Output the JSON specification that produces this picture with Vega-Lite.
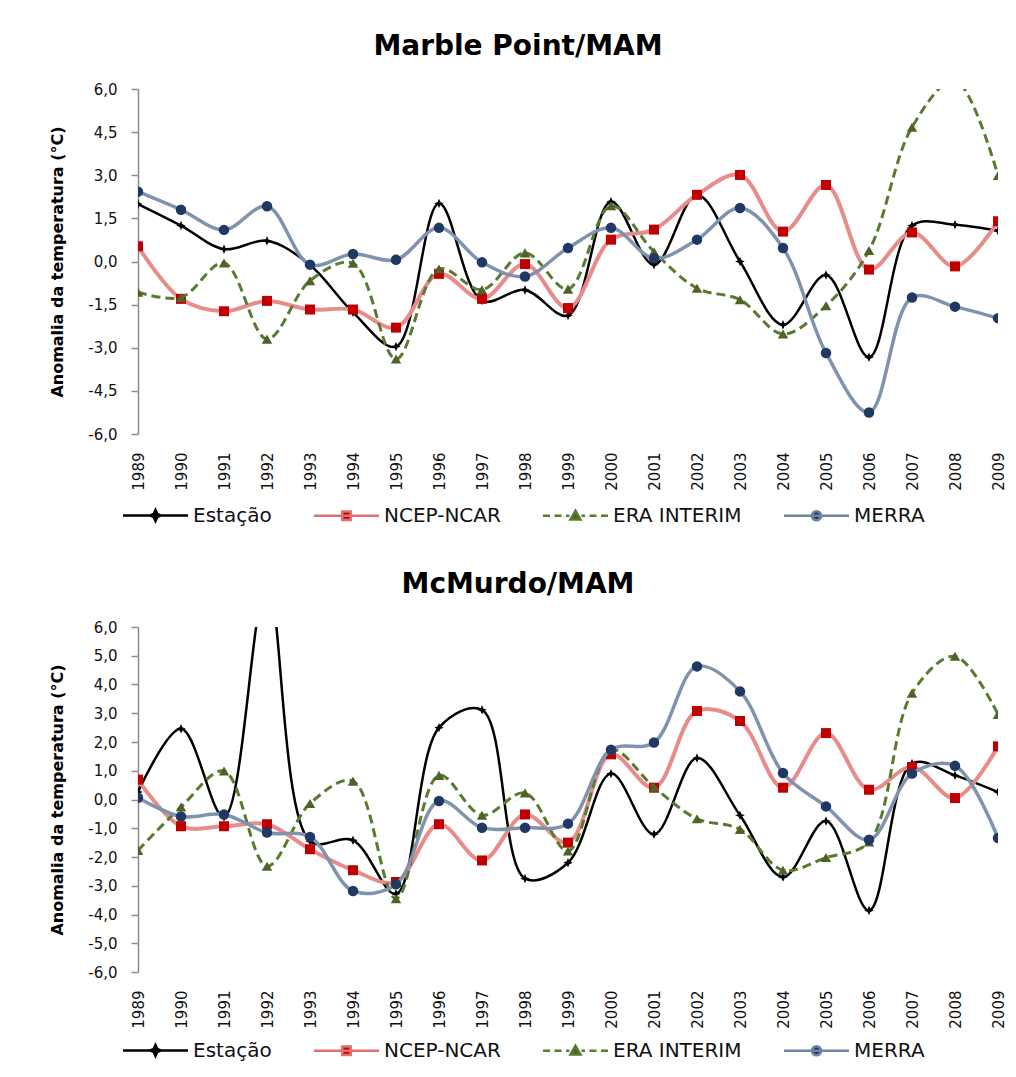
{
  "$schema": "https://vega.github.io/schema/vega-lite/v6.json",
  "background": "white",
  "padding": {"left": 49, "top": 33, "right": 10, "bottom": 5},
  "autosize": {"type": "pad"},
  "spacing": 45,
  "datasets": {
    "dados": [
      {"painel":"Marble Point","serie":"Estação","ano":1989,"valor":2.0},
      {"painel":"Marble Point","serie":"Estação","ano":1990,"valor":1.25},
      {"painel":"Marble Point","serie":"Estação","ano":1991,"valor":0.43},
      {"painel":"Marble Point","serie":"Estação","ano":1992,"valor":0.72},
      {"painel":"Marble Point","serie":"Estação","ano":1993,"valor":-0.12},
      {"painel":"Marble Point","serie":"Estação","ano":1994,"valor":-1.77},
      {"painel":"Marble Point","serie":"Estação","ano":1995,"valor":-2.96},
      {"painel":"Marble Point","serie":"Estação","ano":1996,"valor":2.02},
      {"painel":"Marble Point","serie":"Estação","ano":1997,"valor":-1.36},
      {"painel":"Marble Point","serie":"Estação","ano":1998,"valor":-0.99},
      {"painel":"Marble Point","serie":"Estação","ano":1999,"valor":-1.88},
      {"painel":"Marble Point","serie":"Estação","ano":2000,"valor":2.08},
      {"painel":"Marble Point","serie":"Estação","ano":2001,"valor":-0.11},
      {"painel":"Marble Point","serie":"Estação","ano":2002,"valor":2.31},
      {"painel":"Marble Point","serie":"Estação","ano":2003,"valor":0.0},
      {"painel":"Marble Point","serie":"Estação","ano":2004,"valor":-2.2},
      {"painel":"Marble Point","serie":"Estação","ano":2005,"valor":-0.47},
      {"painel":"Marble Point","serie":"Estação","ano":2006,"valor":-3.33},
      {"painel":"Marble Point","serie":"Estação","ano":2007,"valor":1.25},
      {"painel":"Marble Point","serie":"Estação","ano":2008,"valor":1.28},
      {"painel":"Marble Point","serie":"Estação","ano":2009,"valor":1.07},
      {"painel":"Marble Point","serie":"NCEP-NCAR","ano":1989,"valor":0.53},
      {"painel":"Marble Point","serie":"NCEP-NCAR","ano":1990,"valor":-1.3},
      {"painel":"Marble Point","serie":"NCEP-NCAR","ano":1991,"valor":-1.73},
      {"painel":"Marble Point","serie":"NCEP-NCAR","ano":1992,"valor":-1.37},
      {"painel":"Marble Point","serie":"NCEP-NCAR","ano":1993,"valor":-1.67},
      {"painel":"Marble Point","serie":"NCEP-NCAR","ano":1994,"valor":-1.67},
      {"painel":"Marble Point","serie":"NCEP-NCAR","ano":1995,"valor":-2.3},
      {"painel":"Marble Point","serie":"NCEP-NCAR","ano":1996,"valor":-0.43},
      {"painel":"Marble Point","serie":"NCEP-NCAR","ano":1997,"valor":-1.3},
      {"painel":"Marble Point","serie":"NCEP-NCAR","ano":1998,"valor":-0.09},
      {"painel":"Marble Point","serie":"NCEP-NCAR","ano":1999,"valor":-1.62},
      {"painel":"Marble Point","serie":"NCEP-NCAR","ano":2000,"valor":0.76},
      {"painel":"Marble Point","serie":"NCEP-NCAR","ano":2001,"valor":1.11},
      {"painel":"Marble Point","serie":"NCEP-NCAR","ano":2002,"valor":2.32},
      {"painel":"Marble Point","serie":"NCEP-NCAR","ano":2003,"valor":3.01},
      {"painel":"Marble Point","serie":"NCEP-NCAR","ano":2004,"valor":1.04},
      {"painel":"Marble Point","serie":"NCEP-NCAR","ano":2005,"valor":2.66},
      {"painel":"Marble Point","serie":"NCEP-NCAR","ano":2006,"valor":-0.28},
      {"painel":"Marble Point","serie":"NCEP-NCAR","ano":2007,"valor":1.01},
      {"painel":"Marble Point","serie":"NCEP-NCAR","ano":2008,"valor":-0.17},
      {"painel":"Marble Point","serie":"NCEP-NCAR","ano":2009,"valor":1.4},
      {"painel":"Marble Point","serie":"ERA INTERIM","ano":1989,"valor":-1.07},
      {"painel":"Marble Point","serie":"ERA INTERIM","ano":1990,"valor":-1.25},
      {"painel":"Marble Point","serie":"ERA INTERIM","ano":1991,"valor":-0.05},
      {"painel":"Marble Point","serie":"ERA INTERIM","ano":1992,"valor":-2.7},
      {"painel":"Marble Point","serie":"ERA INTERIM","ano":1993,"valor":-0.67},
      {"painel":"Marble Point","serie":"ERA INTERIM","ano":1994,"valor":-0.06},
      {"painel":"Marble Point","serie":"ERA INTERIM","ano":1995,"valor":-3.39},
      {"painel":"Marble Point","serie":"ERA INTERIM","ano":1996,"valor":-0.26},
      {"painel":"Marble Point","serie":"ERA INTERIM","ano":1997,"valor":-0.98},
      {"painel":"Marble Point","serie":"ERA INTERIM","ano":1998,"valor":0.3},
      {"painel":"Marble Point","serie":"ERA INTERIM","ano":1999,"valor":-0.96},
      {"painel":"Marble Point","serie":"ERA INTERIM","ano":2000,"valor":1.94},
      {"painel":"Marble Point","serie":"ERA INTERIM","ano":2001,"valor":0.34},
      {"painel":"Marble Point","serie":"ERA INTERIM","ano":2002,"valor":-0.93},
      {"painel":"Marble Point","serie":"ERA INTERIM","ano":2003,"valor":-1.33},
      {"painel":"Marble Point","serie":"ERA INTERIM","ano":2004,"valor":-2.52},
      {"painel":"Marble Point","serie":"ERA INTERIM","ano":2005,"valor":-1.54},
      {"painel":"Marble Point","serie":"ERA INTERIM","ano":2006,"valor":0.38},
      {"painel":"Marble Point","serie":"ERA INTERIM","ano":2007,"valor":4.67},
      {"painel":"Marble Point","serie":"ERA INTERIM","ano":2008,"valor":6.3},
      {"painel":"Marble Point","serie":"ERA INTERIM","ano":2009,"valor":2.99},
      {"painel":"Marble Point","serie":"MERRA","ano":1989,"valor":2.43},
      {"painel":"Marble Point","serie":"MERRA","ano":1990,"valor":1.8},
      {"painel":"Marble Point","serie":"MERRA","ano":1991,"valor":1.1},
      {"painel":"Marble Point","serie":"MERRA","ano":1992,"valor":1.92},
      {"painel":"Marble Point","serie":"MERRA","ano":1993,"valor":-0.11},
      {"painel":"Marble Point","serie":"MERRA","ano":1994,"valor":0.26},
      {"painel":"Marble Point","serie":"MERRA","ano":1995,"valor":0.06},
      {"painel":"Marble Point","serie":"MERRA","ano":1996,"valor":1.17},
      {"painel":"Marble Point","serie":"MERRA","ano":1997,"valor":-0.03},
      {"painel":"Marble Point","serie":"MERRA","ano":1998,"valor":-0.52},
      {"painel":"Marble Point","serie":"MERRA","ano":1999,"valor":0.47},
      {"painel":"Marble Point","serie":"MERRA","ano":2000,"valor":1.17},
      {"painel":"Marble Point","serie":"MERRA","ano":2001,"valor":0.11},
      {"painel":"Marble Point","serie":"MERRA","ano":2002,"valor":0.76},
      {"painel":"Marble Point","serie":"MERRA","ano":2003,"valor":1.86},
      {"painel":"Marble Point","serie":"MERRA","ano":2004,"valor":0.47},
      {"painel":"Marble Point","serie":"MERRA","ano":2005,"valor":-3.18},
      {"painel":"Marble Point","serie":"MERRA","ano":2006,"valor":-5.25},
      {"painel":"Marble Point","serie":"MERRA","ano":2007,"valor":-1.25},
      {"painel":"Marble Point","serie":"MERRA","ano":2008,"valor":-1.57},
      {"painel":"Marble Point","serie":"MERRA","ano":2009,"valor":-1.97},
      {"painel":"McMurdo","serie":"Estação","ano":1989,"valor":0.26},
      {"painel":"McMurdo","serie":"Estação","ano":1990,"valor":2.46},
      {"painel":"McMurdo","serie":"Estação","ano":1991,"valor":-0.61},
      {"painel":"McMurdo","serie":"Estação","ano":1992,"valor":7.5},
      {"painel":"McMurdo","serie":"Estação","ano":1993,"valor":-1.45},
      {"painel":"McMurdo","serie":"Estação","ano":1994,"valor":-1.42},
      {"painel":"McMurdo","serie":"Estação","ano":1995,"valor":-3.28},
      {"painel":"McMurdo","serie":"Estação","ano":1996,"valor":2.5},
      {"painel":"McMurdo","serie":"Estação","ano":1997,"valor":3.12},
      {"painel":"McMurdo","serie":"Estação","ano":1998,"valor":-2.75},
      {"painel":"McMurdo","serie":"Estação","ano":1999,"valor":-2.2},
      {"painel":"McMurdo","serie":"Estação","ano":2000,"valor":0.9},
      {"painel":"McMurdo","serie":"Estação","ano":2001,"valor":-1.21},
      {"painel":"McMurdo","serie":"Estação","ano":2002,"valor":1.44},
      {"painel":"McMurdo","serie":"Estação","ano":2003,"valor":-0.55},
      {"painel":"McMurdo","serie":"Estação","ano":2004,"valor":-2.7},
      {"painel":"McMurdo","serie":"Estação","ano":2005,"valor":-0.75},
      {"painel":"McMurdo","serie":"Estação","ano":2006,"valor":-3.86},
      {"painel":"McMurdo","serie":"Estação","ano":2007,"valor":1.25},
      {"painel":"McMurdo","serie":"Estação","ano":2008,"valor":0.84},
      {"painel":"McMurdo","serie":"Estação","ano":2009,"valor":0.26},
      {"painel":"McMurdo","serie":"NCEP-NCAR","ano":1989,"valor":0.69},
      {"painel":"McMurdo","serie":"NCEP-NCAR","ano":1990,"valor":-0.93},
      {"painel":"McMurdo","serie":"NCEP-NCAR","ano":1991,"valor":-0.93},
      {"painel":"McMurdo","serie":"NCEP-NCAR","ano":1992,"valor":-0.86},
      {"painel":"McMurdo","serie":"NCEP-NCAR","ano":1993,"valor":-1.73},
      {"painel":"McMurdo","serie":"NCEP-NCAR","ano":1994,"valor":-2.46},
      {"painel":"McMurdo","serie":"NCEP-NCAR","ano":1995,"valor":-2.87},
      {"painel":"McMurdo","serie":"NCEP-NCAR","ano":1996,"valor":-0.86},
      {"painel":"McMurdo","serie":"NCEP-NCAR","ano":1997,"valor":-2.12},
      {"painel":"McMurdo","serie":"NCEP-NCAR","ano":1998,"valor":-0.52},
      {"painel":"McMurdo","serie":"NCEP-NCAR","ano":1999,"valor":-1.5},
      {"painel":"McMurdo","serie":"NCEP-NCAR","ano":2000,"valor":1.57},
      {"painel":"McMurdo","serie":"NCEP-NCAR","ano":2001,"valor":0.41},
      {"painel":"McMurdo","serie":"NCEP-NCAR","ano":2002,"valor":3.08},
      {"painel":"McMurdo","serie":"NCEP-NCAR","ano":2003,"valor":2.73},
      {"painel":"McMurdo","serie":"NCEP-NCAR","ano":2004,"valor":0.41},
      {"painel":"McMurdo","serie":"NCEP-NCAR","ano":2005,"valor":2.31},
      {"painel":"McMurdo","serie":"NCEP-NCAR","ano":2006,"valor":0.34},
      {"painel":"McMurdo","serie":"NCEP-NCAR","ano":2007,"valor":1.13},
      {"painel":"McMurdo","serie":"NCEP-NCAR","ano":2008,"valor":0.05},
      {"painel":"McMurdo","serie":"NCEP-NCAR","ano":2009,"valor":1.85},
      {"painel":"McMurdo","serie":"ERA INTERIM","ano":1989,"valor":-1.77},
      {"painel":"McMurdo","serie":"ERA INTERIM","ano":1990,"valor":-0.26},
      {"painel":"McMurdo","serie":"ERA INTERIM","ano":1991,"valor":0.99},
      {"painel":"McMurdo","serie":"ERA INTERIM","ano":1992,"valor":-2.32},
      {"painel":"McMurdo","serie":"ERA INTERIM","ano":1993,"valor":-0.14},
      {"painel":"McMurdo","serie":"ERA INTERIM","ano":1994,"valor":0.64},
      {"painel":"McMurdo","serie":"ERA INTERIM","ano":1995,"valor":-3.45},
      {"painel":"McMurdo","serie":"ERA INTERIM","ano":1996,"valor":0.84},
      {"painel":"McMurdo","serie":"ERA INTERIM","ano":1997,"valor":-0.55},
      {"painel":"McMurdo","serie":"ERA INTERIM","ano":1998,"valor":0.23},
      {"painel":"McMurdo","serie":"ERA INTERIM","ano":1999,"valor":-1.79},
      {"painel":"McMurdo","serie":"ERA INTERIM","ano":2000,"valor":1.73},
      {"painel":"McMurdo","serie":"ERA INTERIM","ano":2001,"valor":0.43},
      {"painel":"McMurdo","serie":"ERA INTERIM","ano":2002,"valor":-0.67},
      {"painel":"McMurdo","serie":"ERA INTERIM","ano":2003,"valor":-1.04},
      {"painel":"McMurdo","serie":"ERA INTERIM","ano":2004,"valor":-2.46},
      {"painel":"McMurdo","serie":"ERA INTERIM","ano":2005,"valor":-2.02},
      {"painel":"McMurdo","serie":"ERA INTERIM","ano":2006,"valor":-1.48},
      {"painel":"McMurdo","serie":"ERA INTERIM","ano":2007,"valor":3.7},
      {"painel":"McMurdo","serie":"ERA INTERIM","ano":2008,"valor":4.98},
      {"painel":"McMurdo","serie":"ERA INTERIM","ano":2009,"valor":2.96},
      {"painel":"McMurdo","serie":"MERRA","ano":1989,"valor":0.06},
      {"painel":"McMurdo","serie":"MERRA","ano":1990,"valor":-0.59},
      {"painel":"McMurdo","serie":"MERRA","ano":1991,"valor":-0.52},
      {"painel":"McMurdo","serie":"MERRA","ano":1992,"valor":-1.15},
      {"painel":"McMurdo","serie":"MERRA","ano":1993,"valor":-1.3},
      {"painel":"McMurdo","serie":"MERRA","ano":1994,"valor":-3.18},
      {"painel":"McMurdo","serie":"MERRA","ano":1995,"valor":-2.95},
      {"painel":"McMurdo","serie":"MERRA","ano":1996,"valor":-0.05},
      {"painel":"McMurdo","serie":"MERRA","ano":1997,"valor":-0.98},
      {"painel":"McMurdo","serie":"MERRA","ano":1998,"valor":-0.98},
      {"painel":"McMurdo","serie":"MERRA","ano":1999,"valor":-0.84},
      {"painel":"McMurdo","serie":"MERRA","ano":2000,"valor":1.73},
      {"painel":"McMurdo","serie":"MERRA","ano":2001,"valor":1.98},
      {"painel":"McMurdo","serie":"MERRA","ano":2002,"valor":4.63},
      {"painel":"McMurdo","serie":"MERRA","ano":2003,"valor":3.76},
      {"painel":"McMurdo","serie":"MERRA","ano":2004,"valor":0.92},
      {"painel":"McMurdo","serie":"MERRA","ano":2005,"valor":-0.24},
      {"painel":"McMurdo","serie":"MERRA","ano":2006,"valor":-1.4},
      {"painel":"McMurdo","serie":"MERRA","ano":2007,"valor":0.9},
      {"painel":"McMurdo","serie":"MERRA","ano":2008,"valor":1.17},
      {"painel":"McMurdo","serie":"MERRA","ano":2009,"valor":-1.34}
    ]
  },
  "vconcat": [
    {
      "width": 860,
      "height": 345,
      "title": {"text": "Marble Point/MAM", "dx": -50},
      "data": {"name": "dados"},
      "transform": [{"filter": {"field": "painel", "equal": "Marble Point"}}],
      "encoding": {
        "x": {"field": "ano", "type": "quantitative", "scale": {"domain": [1989, 2009], "nice": false, "zero": false},
              "axis": {"values": [1989,1990,1991,1992,1993,1994,1995,1996,1997,1998,1999,2000,2001,2002,2003,2004,2005,2006,2007,2008,2009], "format": "d", "title": null, "labelOverlap": false}},
        "y": {"field": "valor", "type": "quantitative", "scale": {"domain": [-6, 6], "nice": false},
              "axis": {"values": [-6,-4.5,-3,-1.5,0,1.5,3,4.5,6], "title": "Anomalia da temperatura (°C)", "labelOverlap": false,
                       "labelExpr": "(datum.value < 0 ? '-' : '') + replace(format(abs(datum.value), '.1f'), '.', ',')"}}
      },
      "layer": [
        {
          "data": {"values": [{"zero": 0}]},
          "mark": {"type": "rule", "color": "#8c8c8c", "strokeWidth": 1.5},
          "encoding": {"y": {"datum": 0}, "x": {"datum": 1989}, "x2": {"datum": 2009}}
        },
        {
          "transform": [{"filter": {"field": "serie", "equal": "Estação"}}],
          "layer": [
            {"mark": {"type": "line", "interpolate": "catmull-rom", "clip": true, "color": "#000000", "strokeWidth": 2.5}},
            {"mark": {"type": "point", "filled": true, "opacity": 1, "clip": true, "color": "#000000", "size": 90, "shape": "M0,-1L0.3,-0.3L1,0L0.3,0.3L0,1L-0.3,0.3L-1,0L-0.3,-0.3Z"}}
          ]
        },
        {
          "transform": [{"filter": {"field": "serie", "equal": "NCEP-NCAR"}}],
          "layer": [
            {"mark": {"type": "line", "interpolate": "catmull-rom", "clip": true, "color": "#E88C8A", "strokeWidth": 4}},
            {"mark": {"type": "point", "filled": true, "opacity": 1, "clip": true, "color": "#C00000", "size": 100, "shape": "square"}}
          ]
        },
        {
          "transform": [{"filter": {"field": "serie", "equal": "ERA INTERIM"}}],
          "layer": [
            {"mark": {"type": "line", "interpolate": "catmull-rom", "clip": true, "color": "#5A7A30", "strokeWidth": 3, "strokeDash": [9, 5]}},
            {"mark": {"type": "point", "filled": true, "opacity": 1, "clip": true, "color": "#4F6228", "size": 110, "shape": "triangle-up"}}
          ]
        },
        {
          "transform": [{"filter": {"field": "serie", "equal": "MERRA"}}],
          "layer": [
            {"mark": {"type": "line", "interpolate": "catmull-rom", "clip": true, "color": "#7F93AD", "strokeWidth": 3.5}},
            {"mark": {"type": "point", "filled": true, "opacity": 1, "clip": true, "color": "#1F3864", "size": 110, "shape": "circle"}}
          ]
        },
        {
          "transform": [{"filter": "datum.ano < 0"}],
          "mark": {"type": "point", "filled": true, "opacity": 1, "size": 400, "strokeWidth": 2.5},
          "encoding": {
            "shape": {"field": "serie", "type": "nominal",
                      "scale": {"domain": ["Estação", "NCEP-NCAR", "ERA INTERIM", "MERRA"],
                                "range": ["M-3.25,0H3.25M0,-0.55L0.17,-0.17L0.55,0L0.17,0.17L0,0.55L-0.17,0.17L-0.55,0L-0.17,-0.17Z",
                                          "M-3.25,0H3.25M-0.42,-0.42H0.42V0.42H-0.42Z",
                                          "M-3.25,0H-2.55M-2.1,0H-1.4M-0.95,0H-0.6M0,-0.5L0.5,0.38H-0.5ZM0.6,0H0.95M1.4,0H2.1M2.55,0H3.25",
                                          "M-3.25,0H3.25M0.46,0A0.46,0.46,0,1,1,-0.46,0A0.46,0.46,0,1,1,0.46,0Z"]},
                      "legend": {"title": null, "orient": "none", "legendX": -15, "legendY": 415}},
            "fill": {"field": "serie", "type": "nominal",
                     "scale": {"domain": ["Estação", "NCEP-NCAR", "ERA INTERIM", "MERRA"], "range": ["#000000", "#C00000", "#4F6228", "#1F3864"]},
                     "legend": {"title": null, "orient": "none", "legendX": -15, "legendY": 415}},
            "stroke": {"field": "serie", "type": "nominal",
                       "scale": {"domain": ["Estação", "NCEP-NCAR", "ERA INTERIM", "MERRA"], "range": ["#000000", "#E07070", "#5A7A30", "#6F84A0"]},
                       "legend": {"title": null, "orient": "none", "legendX": -15, "legendY": 415}}
          }
        }
      ]
    },
    {
      "width": 860,
      "height": 345,
      "title": {"text": "McMurdo/MAM", "dx": -50},
      "data": {"name": "dados"},
      "transform": [{"filter": {"field": "painel", "equal": "McMurdo"}}],
      "encoding": {
        "x": {"field": "ano", "type": "quantitative", "scale": {"domain": [1989, 2009], "nice": false, "zero": false},
              "axis": {"values": [1989,1990,1991,1992,1993,1994,1995,1996,1997,1998,1999,2000,2001,2002,2003,2004,2005,2006,2007,2008,2009], "format": "d", "title": null, "labelOverlap": false}},
        "y": {"field": "valor", "type": "quantitative", "scale": {"domain": [-6, 6], "nice": false},
              "axis": {"values": [-6,-5,-4,-3,-2,-1,0,1,2,3,4,5,6], "title": "Anomalia da temperatura (°C)", "labelOverlap": false,
                       "labelExpr": "(datum.value < 0 ? '-' : '') + replace(format(abs(datum.value), '.1f'), '.', ',')"}}
      },
      "layer": [
        {
          "data": {"values": [{"zero": 0}]},
          "mark": {"type": "rule", "color": "#8c8c8c", "strokeWidth": 1.5},
          "encoding": {"y": {"datum": 0}, "x": {"datum": 1989}, "x2": {"datum": 2009}}
        },
        {
          "transform": [{"filter": {"field": "serie", "equal": "Estação"}}],
          "layer": [
            {"mark": {"type": "line", "interpolate": "catmull-rom", "clip": true, "color": "#000000", "strokeWidth": 2.5}},
            {"mark": {"type": "point", "filled": true, "opacity": 1, "clip": true, "color": "#000000", "size": 90, "shape": "M0,-1L0.3,-0.3L1,0L0.3,0.3L0,1L-0.3,0.3L-1,0L-0.3,-0.3Z"}}
          ]
        },
        {
          "transform": [{"filter": {"field": "serie", "equal": "NCEP-NCAR"}}],
          "layer": [
            {"mark": {"type": "line", "interpolate": "catmull-rom", "clip": true, "color": "#E88C8A", "strokeWidth": 4}},
            {"mark": {"type": "point", "filled": true, "opacity": 1, "clip": true, "color": "#C00000", "size": 100, "shape": "square"}}
          ]
        },
        {
          "transform": [{"filter": {"field": "serie", "equal": "ERA INTERIM"}}],
          "layer": [
            {"mark": {"type": "line", "interpolate": "catmull-rom", "clip": true, "color": "#5A7A30", "strokeWidth": 3, "strokeDash": [9, 5]}},
            {"mark": {"type": "point", "filled": true, "opacity": 1, "clip": true, "color": "#4F6228", "size": 110, "shape": "triangle-up"}}
          ]
        },
        {
          "transform": [{"filter": {"field": "serie", "equal": "MERRA"}}],
          "layer": [
            {"mark": {"type": "line", "interpolate": "catmull-rom", "clip": true, "color": "#7F93AD", "strokeWidth": 3.5}},
            {"mark": {"type": "point", "filled": true, "opacity": 1, "clip": true, "color": "#1F3864", "size": 110, "shape": "circle"}}
          ]
        },
        {
          "transform": [{"filter": "datum.ano < 0"}],
          "mark": {"type": "point", "filled": true, "opacity": 1, "size": 400, "strokeWidth": 2.5},
          "encoding": {
            "shape": {"field": "serie", "type": "nominal",
                      "scale": {"domain": ["Estação", "NCEP-NCAR", "ERA INTERIM", "MERRA"],
                                "range": ["M-3.25,0H3.25M0,-0.55L0.17,-0.17L0.55,0L0.17,0.17L0,0.55L-0.17,0.17L-0.55,0L-0.17,-0.17Z",
                                          "M-3.25,0H3.25M-0.42,-0.42H0.42V0.42H-0.42Z",
                                          "M-3.25,0H-2.55M-2.1,0H-1.4M-0.95,0H-0.6M0,-0.5L0.5,0.38H-0.5ZM0.6,0H0.95M1.4,0H2.1M2.55,0H3.25",
                                          "M-3.25,0H3.25M0.46,0A0.46,0.46,0,1,1,-0.46,0A0.46,0.46,0,1,1,0.46,0Z"]},
                      "legend": {"title": null, "orient": "none", "legendX": -15, "legendY": 412}},
            "fill": {"field": "serie", "type": "nominal",
                     "scale": {"domain": ["Estação", "NCEP-NCAR", "ERA INTERIM", "MERRA"], "range": ["#000000", "#C00000", "#4F6228", "#1F3864"]},
                     "legend": {"title": null, "orient": "none", "legendX": -15, "legendY": 412}},
            "stroke": {"field": "serie", "type": "nominal",
                       "scale": {"domain": ["Estação", "NCEP-NCAR", "ERA INTERIM", "MERRA"], "range": ["#000000", "#E07070", "#5A7A30", "#6F84A0"]},
                       "legend": {"title": null, "orient": "none", "legendX": -15, "legendY": 412}}
          }
        }
      ]
    }
  ],
  "resolve": {"scale": {"shape": "independent", "fill": "independent", "stroke": "independent"}},
  "config": {
    "view": {"stroke": null},
    "font": "DejaVu Sans",
    "title": {"fontSize": 28, "fontWeight": "bold", "font": "DejaVu Sans", "color": "#000000", "offset": 21, "anchor": "middle"},
    "axisY": {"domainColor": "#8c8c8c", "domainWidth": 1.5, "tickColor": "#8c8c8c", "tickWidth": 1.5, "tickSize": 7,
              "labelPadding": 14, "labelFontSize": 15, "labelColor": "#111111", "labelFont": "DejaVu Sans", "labelOverlap": false,
              "titleFontSize": 16, "titleFontWeight": "bold", "titlePadding": 22, "titleColor": "#000000", "titleFont": "DejaVu Sans", "grid": false},
    "axisX": {"domain": false, "ticks": false, "grid": false, "labelAngle": -90, "labelPadding": 18, "labelFontSize": 15,
              "labelColor": "#111111", "labelFont": "DejaVu Sans", "labelOverlap": false, "labelFlush": false},
    "legend": {"direction": "horizontal", "columns": 4, "symbolSize": 400, "symbolStrokeWidth": 2.5, "symbolOffset": 21,
               "labelOffset": 26, "columnPadding": 37, "labelFontSize": 20, "labelColor": "#111111", "labelFont": "DejaVu Sans", "padding": 0}
  }
}
